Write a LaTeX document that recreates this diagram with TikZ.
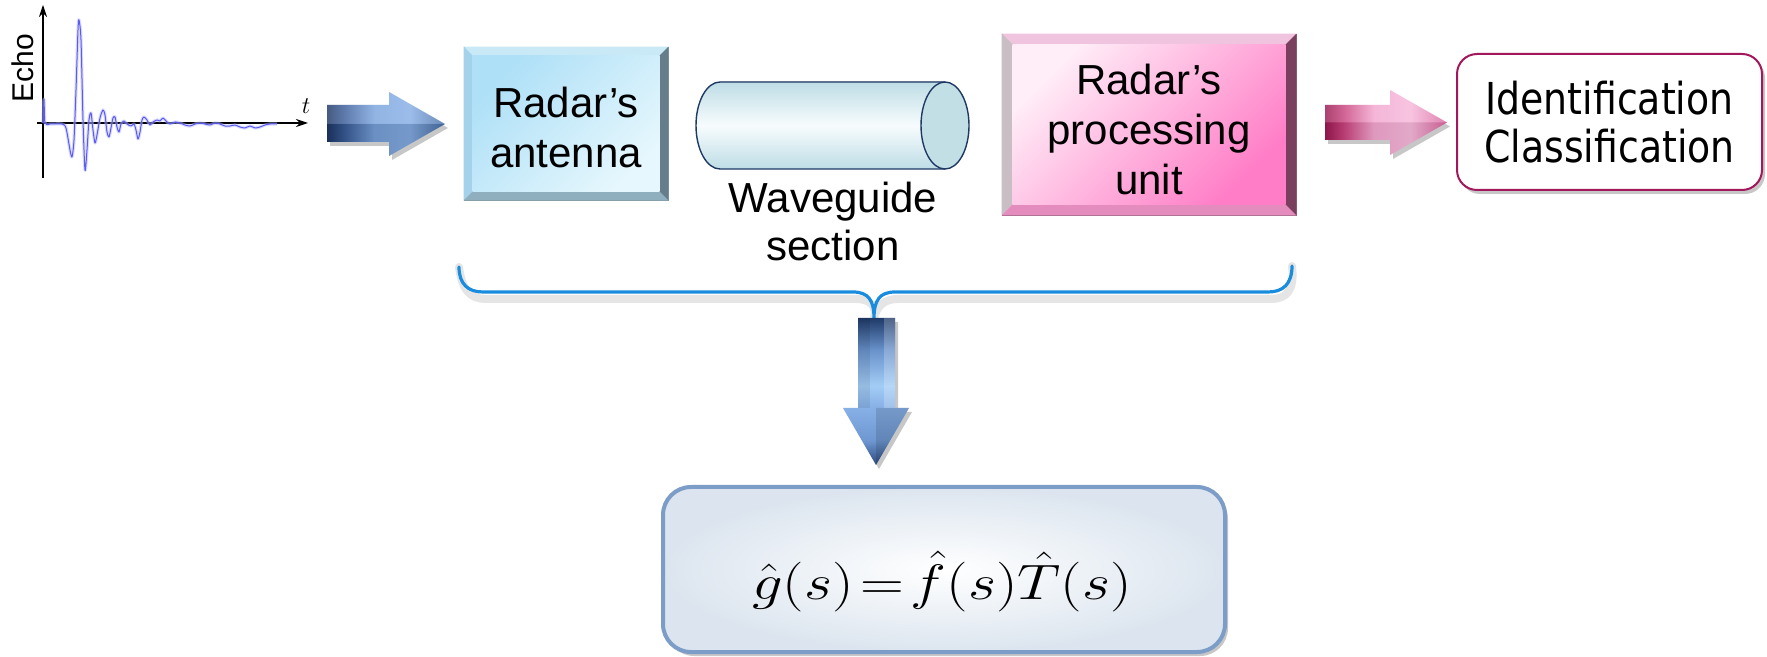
\documentclass[tikz,border=0pt]{standalone}
\usepackage[no-math]{fontspec}
\setmainfont{Liberation Sans}
\newfontfamily\idfont[FakeStretch=0.86]{DejaVu Sans}
\usetikzlibrary{calc,shadows,arrows.meta,shapes.geometric}

\definecolor{tubeline}{HTML}{1F3864}
\definecolor{bracecol}{HTML}{1A8CDD}
\definecolor{sigcol}{HTML}{5A5AF5}
\definecolor{idborder}{HTML}{A3175C}
\definecolor{eqborder}{HTML}{7B9DC8}
\definecolor{antA}{HTML}{AEE0F7}
\definecolor{antB}{HTML}{E6F7FD}
\definecolor{antTop}{HTML}{C9E9F6}
\definecolor{antLeft}{HTML}{A3D2EA}
\definecolor{antBottom}{HTML}{8FAEBE}
\definecolor{antRight}{HTML}{667E8C}
\definecolor{procA}{HTML}{FFEEF8}
\definecolor{procB}{HTML}{FF7CC6}
\definecolor{procTop}{HTML}{F0C4DE}
\definecolor{procLeft}{HTML}{C8BEC4}
\definecolor{procBottom}{HTML}{E58CBE}
\definecolor{procRight}{HTML}{7A3E5E}
\definecolor{tubeEdge}{HTML}{BEDDE6}
\definecolor{tubeMid}{HTML}{F7FCFD}
\definecolor{tubeCap}{HTML}{C3DFE6}
\definecolor{eqOuter}{HTML}{DCE5EF}

% shadings for the block arrows (the path's box spans 25bp..75bp)
\pgfdeclarehorizontalshading{bluearrowfill}{100bp}{%
  color(0bp)=(rgb,255:red,30;green,55;blue,102);
  color(25bp)=(rgb,255:red,30;green,55;blue,102);
  color(32.6bp)=(rgb,255:red,60;green,95;blue,156);
  color(45bp)=(rgb,255:red,122;green,164;blue,222);
  color(60bp)=(rgb,255:red,134;green,175;blue,230);
  color(75bp)=(rgb,255:red,74;green,111;blue,168);
  color(100bp)=(rgb,255:red,74;green,111;blue,168)}
\pgfdeclarehorizontalshading{pinkarrowfill}{100bp}{%
  color(0bp)=(rgb,255:red,154;green,24;blue,80);
  color(25bp)=(rgb,255:red,154;green,24;blue,80);
  color(33bp)=(rgb,255:red,201;green,69;blue,127);
  color(45bp)=(rgb,255:red,243;green,166;blue,207);
  color(60bp)=(rgb,255:red,246;green,184;blue,218);
  color(75bp)=(rgb,255:red,217;green,103;blue,159);
  color(100bp)=(rgb,255:red,217;green,103;blue,159)}
\pgfdeclareverticalshading{downarrowfill}{100bp}{%
  color(0bp)=(rgb,255:red,44;green,74;blue,128);
  color(25bp)=(rgb,255:red,44;green,74;blue,128);
  color(33.5bp)=(rgb,255:red,111;green,152;blue,210);
  color(44.4bp)=(rgb,255:red,134;green,176;blue,230);
  color(52bp)=(rgb,255:red,163;green,204;blue,245);
  color(64bp)=(rgb,255:red,106;green,147;blue,204);
  color(75bp)=(rgb,255:red,31;green,58;blue,104);
  color(100bp)=(rgb,255:red,31;green,58;blue,104)}

% bevelled frame around a rectangular node: #1 node, #2 bevel width,
% #3..#6 fills of the top, left, bottom and right facets
\newcommand\bevelframe[6]{%
  \path (#1.north west) coordinate (#1-nw) (#1.north east) coordinate (#1-ne)
        (#1.south west) coordinate (#1-sw) (#1.south east) coordinate (#1-se);
  \coordinate (#1-inw) at ($(#1-nw)+(#2,#2)$);
  \coordinate (#1-ine) at ($(#1-ne)+(-#2,#2)$);
  \coordinate (#1-isw) at ($(#1-sw)+(#2,-#2)$);
  \coordinate (#1-ise) at ($(#1-se)+(-#2,-#2)$);
  \fill[#3] (#1-nw) -- (#1-ne) -- (#1-ine) -- (#1-inw) -- cycle;
  \fill[#4] (#1-nw) -- (#1-inw) -- (#1-isw) -- (#1-sw) -- cycle;
  \fill[#5] (#1-sw) -- (#1-isw) -- (#1-ise) -- (#1-se) -- cycle;
  \fill[#6] (#1-ne) -- (#1-se) -- (#1-ise) -- (#1-ine) -- cycle;
}

\tikzset{
  boxtext/.style={font=\fontsize{21}{25}\selectfont, align=center, inner sep=0pt},
  softshadow/.style={drop shadow={opacity=0.22, shadow xshift=1.5pt, shadow yshift=-2pt, fill=black}},
  axisline/.style={line width=0.6pt, -{Stealth[length=6pt,width=4pt]}},
  signal/.style={sigcol, line width=0.5pt, line join=round},
  signalglow/.style={sigcol!45, line width=1.6pt, line join=round, opacity=0.5},
}

\begin{document}
\begin{tikzpicture}[x=0.5pt,y=-0.5pt]
\path[use as bounding box, fill=white] (0,0) rectangle (1767,657);

% ---------- echo plot ----------
\coordinate (yorig) at (43,178);
\coordinate (ytip) at (43,5);
\coordinate (xorig) at (37,123);
\coordinate (xtip) at (308,123);
\draw[axisline] (yorig) -- (ytip);
\draw[axisline] (xorig) -- (xtip);
\node[font=\fontsize{15}{15}\selectfont, rotate=90, inner sep=0pt] (echolabel) at (23,68) {Echo};
\node[font=\fontsize{13}{13}\selectfont, inner sep=0pt] (tlabel) at (306,106) {$t$};
\def\echodata{(43,123) (44,99) (45,123) (50,124) (62,124) (66,128) (70,150) (72,157) (74,140) (76,90) (78,30) (79,20) (81,40) (83,120) (85,170) (87,150) (89,120) (91,113) (93,130) (95,143) (97,135) (100,118) (103,110) (105,115) (107,132) (109,137) (111,128) (113,118) (115,117) (117,127) (119,132) (121,124) (124,121) (127,124) (131,126) (134,124) (136,130) (138,139) (140,132) (142,120) (144,117) (147,120) (150,125) (153,122) (157,120) (160,121) (163,118) (166,121) (170,124) (175,122) (180,123) (185,125) (190,126) (195,124) (200,123) (205,124) (210,125) (215,123) (220,124) (225,126) (230,126) (235,125) (240,127) (245,128) (250,126) (255,128) (260,127) (265,125) (270,124) (277,124)}
\draw[signalglow] plot[smooth, tension=0.45] coordinates {\echodata};
\draw[signal] plot[smooth, tension=0.45] coordinates {\echodata};

% ---------- blue input arrow ----------
\path[softshadow, shading=bluearrowfill]
  (327,105) -- (389,105) -- (389,92) -- (445,124) -- (389,156) -- (389,142) -- (327,142) -- cycle;
\fill[white, opacity=0.18] (327,105) -- (389,105) -- (389,92) -- (445,124) -- (327,124) -- cycle;
\fill[black, opacity=0.12] (327,124) -- (445,124) -- (389,156) -- (389,142) -- (327,142) -- cycle;

% ---------- radar antenna ----------
\node[draw=antRight!80, line width=0.4pt, fill=antTop, minimum width=102pt, minimum height=76.5pt, inner sep=0pt] (ant) at (566,123.5) {};
\bevelframe{ant}{9}{antTop}{antLeft}{antBottom}{antRight}
\path[shade, top color=antA, bottom color=antB, shading angle=45] (ant-inw) rectangle (ant-ise);
\node[boxtext] (anttext) at ($(ant)+(0,3.5)$) {Radar’s\\antenna};

% ---------- waveguide ----------
\coordinate (wgtl) at (720,82);
\coordinate (wgbl) at (720,169);
\coordinate (wgtr) at (945,82);
\coordinate (wgbr) at (945,169);
\fill[top color=tubeEdge, bottom color=tubeEdge, middle color=tubeMid]
  (wgtl) -- (wgtr) -- (wgbr) -- (wgbl) arc[start angle=90, end angle=270, x radius=24, y radius=43.5] -- cycle;
\draw[tubeline, line width=0.7pt] (wgtr) -- (wgtl) arc[start angle=270, end angle=90, x radius=24, y radius=43.5] -- (wgbr);
\node[draw=tubeline, line width=0.7pt, fill=tubeCap, ellipse, minimum width=24pt, minimum height=43.5pt, inner sep=0pt] (wgcap) at (945,125.5) {};
\node[font=\fontsize{21}{24}\selectfont, align=center, inner sep=0pt] (wglabel) at (833,221) {Waveguide\\section};

% ---------- processing unit ----------
\node[draw=procRight!80, line width=0.4pt, fill=procTop, minimum width=147pt, minimum height=90.5pt, inner sep=0pt] (proc) at (1149,124.5) {};
\bevelframe{proc}{11}{procTop}{procLeft}{procBottom}{procRight}
\path[shade, top color=procA, bottom color=procB, shading angle=45] (proc-inw) rectangle (proc-ise);
\node[boxtext] (proctext) at ($(proc)+(0,4.5)$) {Radar’s\\processing\\unit};

% ---------- pink output arrow ----------
\path[softshadow, shading=pinkarrowfill]
  (1325,105) -- (1390,105) -- (1390,90) -- (1447,122.5) -- (1390,155) -- (1390,140) -- (1325,140) -- cycle;
\fill[white, opacity=0.18] (1325,105) -- (1390,105) -- (1390,90) -- (1447,122.5) -- (1325,122.5) -- cycle;
\fill[black, opacity=0.08] (1325,122.5) -- (1447,122.5) -- (1390,155) -- (1390,140) -- (1325,140) -- cycle;

% ---------- identification box ----------
\node[draw=idborder, line width=1pt, fill=white, rounded corners=10pt, softshadow,
      minimum width=152.5pt, minimum height=68pt, inner sep=0pt] (ident) at (1609.5,122) {};
\node[font=\idfont\fontsize{22}{24}\selectfont, align=center, inner sep=0pt] (identtext) at ($(ident)+(0,0.5)$) {Identification\\Classification};

% ---------- brace under the chain ----------
\coordinate (brl) at (459,267);
\coordinate (brr) at (1292,266);
\coordinate (brtip) at (874,318);
\draw[black, opacity=0.10, line width=4pt, line cap=round, shift={(3,7)}]
  (brl) .. controls (459,284) and (468,292) .. (483,292) -- (853,292)
  .. controls (868,292) and (874,300) .. (brtip)
  .. controls (874,300) and (880,292) .. (895,292) -- (1268,292)
  .. controls (1283,292) and (1292,284) .. (brr);
\draw[bracecol, line width=1.6pt, line cap=round]
  (brl) .. controls (459,284) and (468,292) .. (483,292) -- (853,292)
  .. controls (868,292) and (874,300) .. (brtip)
  .. controls (874,300) and (880,292) .. (895,292) -- (1268,292)
  .. controls (1283,292) and (1292,284) .. (brr);

% ---------- downward arrow ----------
\path[softshadow, shading=downarrowfill]
  (858,318) -- (895,318) -- (895,408) -- (909,408) -- (876,465) -- (843,408) -- (858,408) -- cycle;
\fill[black, opacity=0.08] (858,318) -- (870,318) -- (870,408) -- (858,408) -- cycle;
\fill[black, opacity=0.12] (876,408) -- (909,408) -- (876,465) -- cycle;
\fill[white, opacity=0.22] (884,318) -- (895,318) -- (895,408) -- (884,408) -- cycle;

% ---------- transfer function box ----------
\node[draw=eqborder, line width=2pt, rounded corners=14pt, softshadow,
      inner color=white, outer color=eqOuter,
      minimum width=281pt, minimum height=82.5pt, inner sep=0pt] (eqbox) at (944,569.5) {};
\node[inner sep=0pt, anchor=base, font=\fontsize{25}{25}\selectfont, xscale=1.22] (eq) at (942,599)
  {$\hat{g}(s)\!=\!\hat{f}(s)\hat{T}(s)$};
\end{tikzpicture}
\end{document}
